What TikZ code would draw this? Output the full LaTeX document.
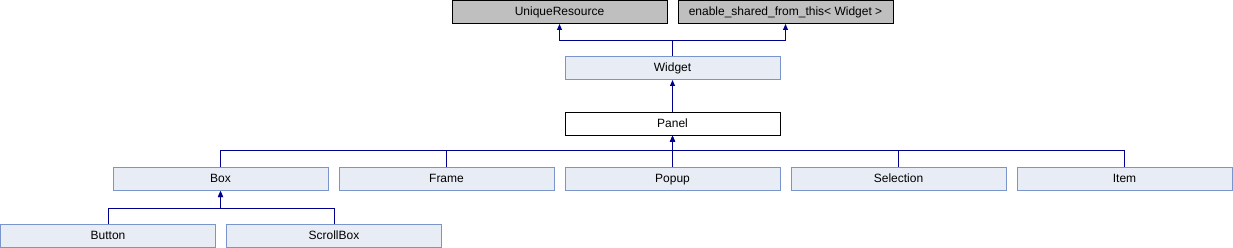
\documentclass[tikz,border=0pt]{standalone}
\usepackage{fontspec}
\setmainfont{Liberation Sans}
\usepackage{tikz}
\usepackage{xcolor}
\usetikzlibrary{arrows.meta, positioning}
\definecolor{clsfill}{RGB}{232,236,245}
\definecolor{clsdraw}{RGB}{122,148,204}
\definecolor{extfill}{RGB}{191,191,191}
\definecolor{linkblue}{RGB}{0,0,140}
\tikzstyle{cls}      = [rectangle, minimum width=215pt, minimum height=23pt, inner sep=0pt,
                        text height=9pt, text depth=2.5pt,
                        text centered, draw=clsdraw, fill=clsfill, line width=1pt]
\tikzstyle{extcls}   = [rectangle, minimum width=215pt, minimum height=23pt, inner sep=0pt,
                        text height=9pt, text depth=2.5pt,
                        text centered, draw=black, fill=extfill, line width=1pt]
\tikzstyle{curcls}   = [rectangle, minimum width=215pt, minimum height=23pt, inner sep=0pt,
                        text height=9pt, text depth=2.5pt,
                        text centered, draw=black, fill=white, line width=1pt]
\tikzstyle{inherit}  = [-{Triangle[length=6pt,width=5pt,fill=linkblue]}, draw=linkblue, line width=1pt]

\begin{document}
\begin{tikzpicture}[node distance=10pt, every node/.style={font=\fontsize{12}{14}\selectfont}]
    \useasboundingbox (0,0) rectangle (1233pt,-248pt);

    \node (panel) [curcls] at (672.5pt,-124pt) {Panel};
    \node (widget) [cls, above=32pt of panel] {Widget};
    \node (unique) [extcls] at (559.5pt,-12pt) {UniqueResource};
    \node (shared) [extcls, right=of unique] {enable\_shared\_from\_this< Widget >};

    \node (popup) [cls, below=31pt of panel] {Popup};
    \node (frame) [cls, left=of popup] {Frame};
    \node (box) [cls, left=of frame] {Box};
    \node (selection) [cls, right=of popup] {Selection};
    \node (item) [cls, right=of selection] {Item};

    \node (button) [cls] at (108pt,-236pt) {Button};
    \node (scrollbox) [cls, right=of button] {ScrollBox};

    \draw[inherit] (widget.north) -- ++(0,15pt) -| (unique.south);
    \draw[inherit] (widget.north) -- ++(0,15pt) -| (shared.south);
    \draw[inherit] (panel.north) -- (widget.south);
    \draw[inherit] (box.north) -- ++(0,16pt) -| (panel.south);
    \draw[inherit] (frame.north) -- ++(0,16pt) -| (panel.south);
    \draw[inherit] (popup.north) -- (panel.south);
    \draw[inherit] (selection.north) -- ++(0,16pt) -| (panel.south);
    \draw[inherit] (item.north) -- ++(0,16pt) -| (panel.south);
    \draw[inherit] (button.north) -- ++(0,16pt) -| (box.south);
    \draw[inherit] (scrollbox.north) -- ++(0,16pt) -| (box.south);
\end{tikzpicture}
\end{document}
